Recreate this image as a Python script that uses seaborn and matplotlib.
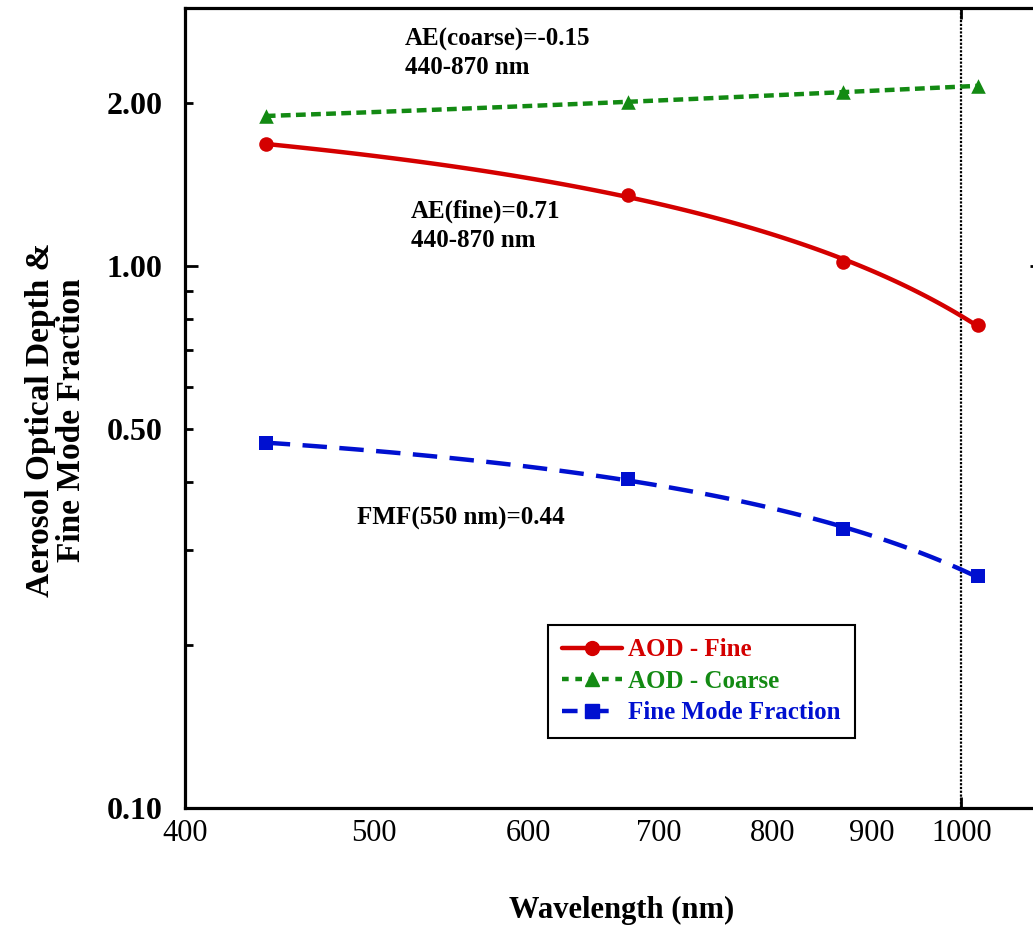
import numpy as np
import pandas as pd
import matplotlib
matplotlib.use("Agg")
import matplotlib.pyplot as plt
from matplotlib.ticker import FixedLocator, FixedFormatter
from matplotlib.lines import Line2D
import seaborn as sns

# ---- data ----
wavelength = [440, 675, 870, 1020]
aod_fine = [1.68, 1.354, 1.017, 0.781]
aod_coarse = [1.896, 2.012, 2.10, 2.154]
fmf = [0.472, 0.405, 0.327, 0.268]

series_names = ["AOD - Fine", "AOD - Coarse", "Fine Mode Fraction"]
x_tick_values = [400, 500, 600, 700, 800, 900]
x_tick_labels = ["400", "500", "600", "700", "800", "900"]
y_minor_values = [0.1, 0.2, 0.3, 0.4, 0.5, 0.6, 0.7, 0.8, 0.9, 2.0]
y_minor_labels = ["0.10", "", "", "", "0.50", "", "", "", "", "2.00"]

annotations = ["AE(coarse)=-0.15\n440-870 nm", "AE(fine)=0.71\n440-870 nm", "FMF(550 nm)=0.44"]

RED = "#d40000"
GREEN = "#138a13"
BLUE = "#0010d0"

sns.set_style("white")
plt.rcParams["font.family"] = ["Liberation Serif", "DejaVu Serif"]
for k in ["text.color", "axes.labelcolor", "xtick.color", "ytick.color"]:
    plt.rcParams[k] = "black"

fig = plt.figure(figsize=(10.33, 9.3), dpi=100)
ax = fig.add_axes([185 / 1033, 1 - 808 / 930, (1042 - 185) / 1033, 800 / 930])

ax.set_xscale("log")
ax.set_yscale("log")

styles = [
    dict(y=aod_fine, color=RED, ls="-", marker="o", s=110),
    dict(y=aod_coarse, color=GREEN, ls=(0, (2.2, 1.2)), marker="^", s=110),
    dict(y=fmf, color=BLUE, ls=(0, (5.5, 2.8)), marker="s", s=110),
]

for st in styles:
    sns.regplot(x=np.array(wavelength, float), y=np.array(st["y"], float), order=2, ci=None,
                scatter=False, truncate=True, ax=ax,
                line_kws=dict(color=st["color"], lw=3.2, ls=st["ls"], zorder=3))
    sns.scatterplot(x=wavelength, y=st["y"], marker=st["marker"], s=st["s"],
                    color=st["color"], edgecolor=st["color"], linewidth=0, ax=ax, zorder=4)

ax.axvline(1000, color="black", ls=(0, (1, 0.7)), lw=1.6, zorder=2)

ax.set_xlim(400, 1100)
ax.set_ylim(0.1, 3.0)

# x ticks
ax.xaxis.set_major_locator(FixedLocator([1000]))
ax.xaxis.set_major_formatter(FixedFormatter(["1000"]))
ax.xaxis.set_minor_locator(FixedLocator(x_tick_values))
ax.xaxis.set_minor_formatter(FixedFormatter(x_tick_labels))
ax.tick_params(axis="x", which="major", direction="in", length=8, width=2, top=True,
               bottom=True, labelsize=22, pad=8)
ax.tick_params(axis="x", which="minor", direction="in", length=0, labelsize=22, pad=8,
               top=False)

# y ticks
ax.yaxis.set_major_locator(FixedLocator([1.0]))
ax.yaxis.set_major_formatter(FixedFormatter(["1.00"]))
ax.yaxis.set_minor_locator(FixedLocator(y_minor_values))
ax.yaxis.set_minor_formatter(FixedFormatter(y_minor_labels))
ax.tick_params(axis="y", which="major", direction="in", length=9, width=2, left=True,
               right=True, labelsize=23, pad=16)
ax.tick_params(axis="y", which="minor", direction="in", length=5.5, width=2, left=True,
               right=True, labelsize=23, pad=16)
for lab in ax.get_yticklabels(which="both"):
    lab.set_fontweight("bold")

for sp in ax.spines.values():
    sp.set_linewidth(2.3)
    sp.set_color("black")

ax.set_xlabel("Wavelength (nm)", fontsize=22, fontweight="bold", va="center")
ax.xaxis.set_label_coords(0.51, -0.1275)
ax.set_ylabel("Aerosol Optical Depth &\nFine Mode Fraction", fontsize=24, fontweight="bold",
              ha="center", va="center", linespacing=1.0)
ax.yaxis.set_label_coords(-0.151, 0.485)

ax.text(0.257, 0.975, annotations[0], transform=ax.transAxes, fontsize=18, fontweight="bold",
        va="top", ha="left", linespacing=1.3)
ax.text(0.264, 0.76, annotations[1], transform=ax.transAxes, fontsize=18, fontweight="bold",
        va="top", ha="left", linespacing=1.3)
ax.text(0.2007, 0.3625, annotations[2], transform=ax.transAxes, fontsize=18,
        fontweight="bold", va="center", ha="left")

handles = [
    Line2D([], [], color=RED, lw=3.2, ls="-", marker="o", markersize=10),
    Line2D([], [], color=GREEN, lw=3.2, ls=(0, (1.5, 1.5)), marker="^", markersize=10),
    Line2D([], [], color=BLUE, lw=3.2, ls=(0, (3.5, 3.5)), marker="s", markersize=10),
]
leg = ax.legend(handles, series_names, loc="lower left", bbox_to_anchor=(0.424, 0.0875),
                fancybox=False, framealpha=1, edgecolor="black", handlelength=2.4,
                handletextpad=0.25, borderpad=0.55, labelspacing=0.34, borderaxespad=0,
                prop=dict(family="Liberation Serif", weight="bold", size=18))
leg.get_frame().set_linewidth(1.5)
for txt, c in zip(leg.get_texts(), [RED, GREEN, BLUE]):
    txt.set_color(c)

fig.savefig("out.png", dpi=100)
